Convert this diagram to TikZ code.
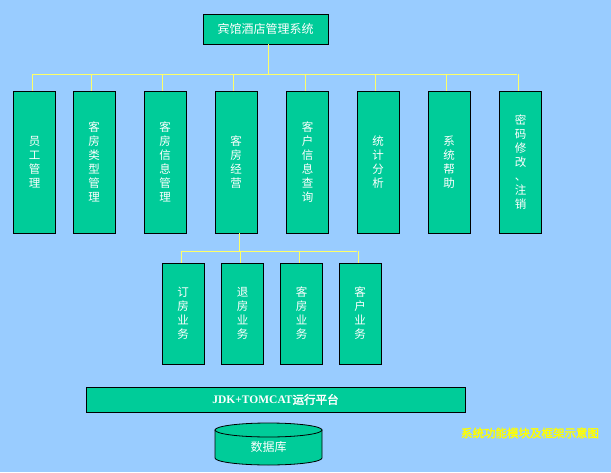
\documentclass[tikz,border=0pt]{standalone}
\usepackage{fontspec}
\usetikzlibrary{calc}
\newfontfamily\cjk{Noto Sans CJK SC}
\newfontfamily\cjkb[FakeBold=2.5]{Noto Sans CJK SC}
\newfontfamily\latb{Liberation Serif Bold}
\definecolor{bgblue}{HTML}{99CCFF}
\definecolor{boxgreen}{HTML}{00CC99}
\definecolor{linkyellow}{HTML}{FFFF66}
\definecolor{capyellow}{HTML}{FFFF00}
\tikzset{
  box/.style={draw=black, line width=0.8pt, fill=boxgreen, text=white, inner sep=0pt, align=center},
  colbox/.style={box, minimum width=42pt, minimum height=142pt, font=\cjk\fontsize{11.5}{14}\selectfont},
  subbox/.style={box, minimum width=42pt, minimum height=101pt, font=\cjk\fontsize{11.5}{14}\selectfont},
  link/.style={draw=linkyellow, line width=0.9pt}
}
\begin{document}
\begin{tikzpicture}[x=1pt, y=-1pt]
\fill[bgblue] (0,0) rectangle (611,472);
\useasboundingbox (0,0) rectangle (611,472);

% top box
\node[box, minimum width=125pt, minimum height=30pt, font=\cjk\fontsize{12}{14}\selectfont] (top) at (265.5,29) {宾馆酒店管理系统};

% columns
\node[colbox] (b1) at (34.5,162) {员\\工\\管\\理};
\node[colbox] (b2) at (94,162) {客\\房\\类\\型\\管\\理};
\node[colbox] (b3) at (165,162) {客\\房\\信\\息\\管\\理};
\node[colbox] (b4) at (236,162) {客\\房\\经\\营};
\node[colbox] (b5) at (307.5,162) {客\\户\\信\\息\\查\\询};
\node[colbox] (b6) at (378,162) {统\\计\\分\\析};
\node[colbox] (b7) at (449,162) {系\\统\\帮\\助};
\node[colbox] (b8) at (520.5,162) {密\\码\\修\\改\\、\\注\\销};

% sub boxes
\node[subbox] (s1) at (183,313.5) {订\\房\\业\\务};
\node[subbox] (s2) at (242.5,313.5) {退\\房\\业\\务};
\node[subbox] (s3) at (301.5,313.5) {客\\房\\业\\务};
\node[subbox] (s4) at (360,313.5) {客\\户\\业\\务};

% bus coordinates
\coordinate (bus) at (268,74);
\coordinate (sbus) at (239,251);

% top connectors
\draw[link] ($(top.south)+(2.5,0)$) -- ($(top.south |- bus)+(2.5,0)$);
\draw[link] ($(b1.north |- bus)+(-2.5,0)$) -- ($(b8.north |- bus)+(-3.5,0)$);
\foreach \b in {b1,b2,b3,b4,b5,b6,b7,b8}{
  \draw[link] ($(\b.north)+(-2.5,0)$) -- ($(\b.north |- bus)+(-2.5,0)$);
}

% sub connectors
\draw[link] ($(b4.south)+(3,0)$) -- ($(b4.south |- sbus)+(3,0)$);
\draw[link] ($(s1.north |- sbus)+(-2,0)$) -- ($(s4.north |- sbus)+(-3,0)$);
\foreach \s in {s1,s2,s3,s4}{
  \draw[link] ($(\s.north)+(-2,0)$) -- ($(\s.north |- sbus)+(-2,0)$);
}

% platform bar
\node[box, minimum width=379pt, minimum height=25pt] (plat) at (275.5,399.5)
  {\fontsize{11.5}{14}\selectfont\latb JDK+TOMCAT\cjkb 运行平台};

% database cylinder
\filldraw[fill=boxgreen, draw=black, line width=0.8pt]
  (215,430) -- (215,458)
  .. controls (215,461.87) and (238.95,465) .. (268.5,465)
  .. controls (298.05,465) and (322,461.87) .. (322,458)
  -- (322,430) -- cycle;
\filldraw[fill=boxgreen, draw=black, line width=0.8pt] (268.5,430) ellipse [x radius=53.5, y radius=7];
\node[text=white, font=\cjk\fontsize{12}{14}\selectfont] (db) at (268.5,447) {数据库};

% caption
\node[text=capyellow, font=\cjkb\fontsize{11.5}{14}\selectfont] (cap) at (530,433) {系统功能模块及框架示意图};
\end{tikzpicture}
\end{document}
